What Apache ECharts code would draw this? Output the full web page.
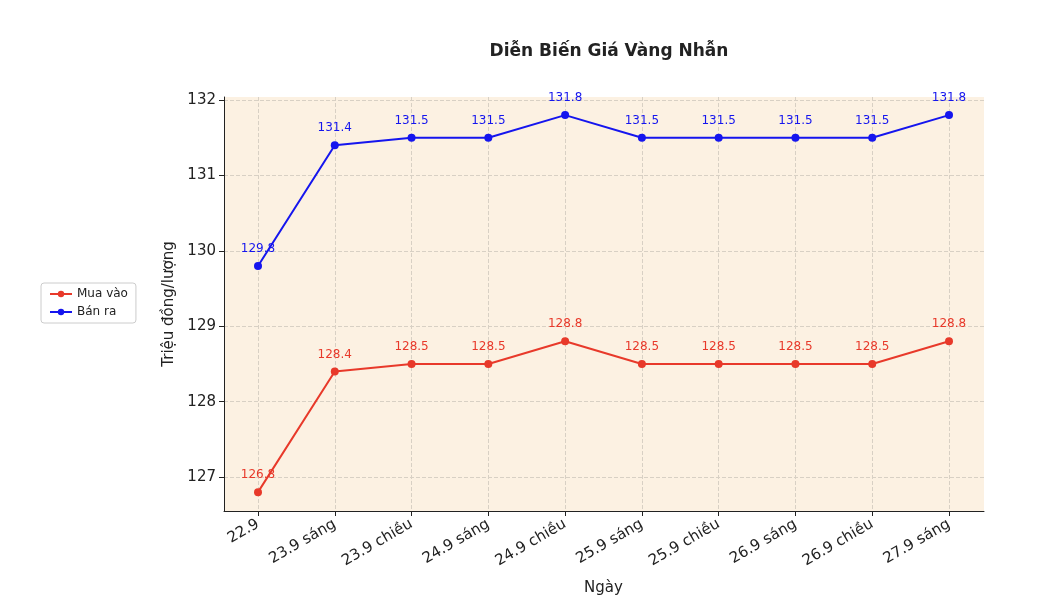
<!DOCTYPE html><html><head><meta charset="utf-8"><script src="https://cdn.jsdelivr.net/npm/echarts@6/dist/echarts.min.js"></script></head><body style="margin:0;background:#fff"><div id="c" style="width:1064px;height:616px"></div><script>
const categories=['22.9','23.9 sáng','23.9 chiều','24.9 sáng','24.9 chiều','25.9 sáng','25.9 chiều','26.9 sáng','26.9 chiều','27.9 sáng'];
const muaVao=[126.8,128.4,128.5,128.5,128.8,128.5,128.5,128.5,128.5,128.8];
const banRa=[129.8,131.4,131.5,131.5,131.8,131.5,131.5,131.5,131.5,131.8];
const yTicks=[127,128,129,130,131,132];
const F='DejaVu Sans';
const c=echarts.init(document.getElementById('c'));
const lbl=(col)=>({show:true,position:'top',distance:7,color:col,fontSize:12,fontFamily:F});
c.setOption({
title:{text:'Diễn Biến Giá Vàng Nhẫn',left:604,top:38,textAlign:'center',textStyle:{fontFamily:F,fontSize:17,fontWeight:'bold',color:'#222'}},
legend:{orient:'vertical',left:41,top:283,itemWidth:22,itemHeight:8,itemGap:6,borderColor:'#ccc',borderWidth:1,borderRadius:3,padding:[5,8],textStyle:{fontFamily:F,fontSize:12,color:'#222'},data:['Mua vào','Bán ra']},
grid:[{left:224,right:80,top:97,bottom:105,show:true,backgroundColor:'#fcf1e2',borderWidth:0},
{left:258,right:115,top:97,bottom:105}],
xAxis:[{gridIndex:0,type:'value',min:0,max:1,axisLine:{show:true,lineStyle:{color:'#222'}},axisTick:{show:false},axisLabel:{show:false},splitLine:{show:false}},
{gridIndex:1,type:'category',data:categories,boundaryGap:false,axisLine:{show:false},axisTick:{show:true,length:5,lineStyle:{color:'#222'}},
axisLabel:{rotate:30,fontFamily:F,fontSize:15,color:'#222',margin:12},
splitLine:{show:true,lineStyle:{type:'dashed',color:'#d8d0c4'}},name:'Ngày',nameLocation:'middle',nameGap:70,nameTextStyle:{fontFamily:F,fontSize:15,color:'#222'}}],
yAxis:[{gridIndex:0,type:'value',min:126.55,max:132.04,axisLine:{show:true,lineStyle:{color:'#222'}},axisTick:{show:false,customValues:yTicks},axisLabel:{show:false,customValues:yTicks},splitLine:{show:true,lineStyle:{type:'dashed',color:'#d8d0c4'}}},
{gridIndex:1,type:'value',min:126.55,max:132.04,offset:34,
axisLine:{show:false},axisTick:{show:true,length:5,customValues:yTicks,lineStyle:{color:'#222'}},
axisLabel:{customValues:yTicks,fontFamily:F,fontSize:15,color:'#222',margin:8},
splitLine:{show:false},
name:'Triệu đồng/lượng',nameLocation:'middle',nameGap:46,nameTextStyle:{fontFamily:F,fontSize:15,color:'#222'}}],
series:[
{name:'Mua vào',type:'line',xAxisIndex:1,yAxisIndex:1,data:muaVao,color:'#e8392a',symbol:'circle',symbolSize:8,lineStyle:{width:2},label:lbl('#e8392a')},
{name:'Bán ra',type:'line',xAxisIndex:1,yAxisIndex:1,data:banRa,color:'#1515ee',symbol:'circle',symbolSize:8,lineStyle:{width:2},label:lbl('#1515ee')}
]});
</script></body></html>
